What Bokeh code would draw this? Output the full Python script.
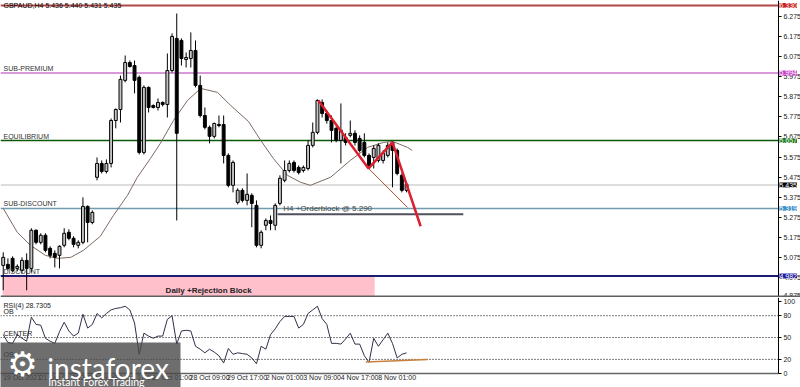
from bokeh.plotting import figure
from bokeh.layouts import column
from bokeh.models import (Range1d, FixedTicker, PrintfTickFormatter, Label,
                          BoxAnnotation, Span, ColumnDataSource)
from bokeh.embed import file_html
from bokeh.resources import INLINE

# ---------------- data (GBPAUD H4) ----------------
opens = [5.035, 5.040, 5.070, 5.020, 5.010, 5.060, 5.020, 5.210, 5.150, 5.185,
         5.120, 5.095, 5.085, 5.135, 5.200, 5.170, 5.135, 5.150, 5.329, 5.249,
         5.474, 5.543, 5.503, 5.543, 5.757, 5.812, 5.957, 6.046, 6.031, 5.972,
         5.598, 5.922, 5.832, 5.822, 5.847, 5.837, 6.006, 6.166, 6.156, 6.061,
         6.066, 6.106, 5.932, 5.782, 5.723, 5.678, 5.737, 5.737, 5.583, 5.434,
         5.349, 5.409, 5.359, 5.384, 5.334, 5.135, 5.235, 5.259, 5.235, 5.344,
         5.459, 5.508, 5.548, 5.523, 5.508, 5.518, 5.633, 5.698, 5.847, 5.792,
         5.757, 5.718, 5.658, 5.673, 5.683, 5.693, 5.668, 5.648, 5.583, 5.573,
         5.558, 5.558, 5.583, 5.648, 5.608, 5.484, 5.409]
highs = [5.100, 5.070, 5.080, 5.040, 5.075, 5.095, 5.220, 5.215, 5.195, 5.195,
         5.130, 5.110, 5.135, 5.220, 5.215, 5.180, 5.160, 5.374, 5.334, 5.309,
         5.573, 5.558, 5.563, 5.767, 5.817, 5.981, 6.081, 6.056, 6.056, 5.981,
         5.932, 5.927, 5.837, 5.867, 5.852, 6.091, 6.191, 6.290, 6.166, 6.096,
         6.196, 6.156, 5.981, 5.822, 5.732, 5.747, 5.782, 5.782, 5.593, 5.558,
         5.419, 5.419, 5.493, 5.394, 5.359, 5.210, 5.269, 5.284, 5.344, 5.484,
         5.558, 5.558, 5.558, 5.533, 5.533, 5.658, 5.747, 5.862, 5.862, 5.807,
         5.782, 5.728, 5.842, 5.693, 5.757, 5.708, 5.683, 5.693, 5.593, 5.633,
         5.643, 5.608, 5.648, 5.653, 5.618, 5.493, 5.449]
lows = [4.911, 5.010, 5.000, 5.005, 4.995, 4.911, 5.000, 5.140, 5.140, 5.100,
        5.070, 5.025, 5.020, 5.125, 5.160, 5.125, 5.120, 5.140, 5.150, 5.240,
        5.459, 5.493, 5.493, 5.523, 5.718, 5.747, 5.947, 6.021, 5.892, 5.588,
        5.588, 5.797, 5.817, 5.807, 5.827, 5.772, 5.996, 5.259, 6.031, 6.021,
        6.021, 5.922, 5.772, 5.713, 5.643, 5.668, 5.723, 5.543, 5.424, 5.399,
        5.339, 5.349, 5.334, 5.225, 5.125, 5.120, 5.210, 5.210, 5.210, 5.334,
        5.449, 5.498, 5.498, 5.488, 5.498, 5.508, 5.623, 5.688, 5.772, 5.742,
        5.648, 5.648, 5.543, 5.633, 5.673, 5.633, 5.598, 5.573, 5.523, 5.518,
        5.548, 5.543, 5.573, 5.424, 5.484, 5.399, 5.399]
closes = [5.075, 5.020, 5.010, 5.030, 5.060, 5.020, 5.210, 5.150, 5.185, 5.110,
          5.085, 5.075, 5.130, 5.195, 5.170, 5.140, 5.150, 5.329, 5.249, 5.299,
          5.543, 5.503, 5.543, 5.757, 5.812, 5.962, 6.046, 6.026, 5.957, 5.598,
          5.922, 5.822, 5.822, 5.847, 5.837, 6.006, 6.176, 5.693, 6.066, 6.071,
          6.106, 5.932, 5.782, 5.723, 5.678, 5.742, 5.732, 5.583, 5.434, 5.548,
          5.409, 5.359, 5.389, 5.344, 5.135, 5.200, 5.259, 5.244, 5.334, 5.469,
          5.508, 5.543, 5.508, 5.498, 5.523, 5.633, 5.698, 5.857, 5.792, 5.757,
          5.708, 5.658, 5.708, 5.648, 5.693, 5.648, 5.608, 5.583, 5.533, 5.618,
          5.633, 5.593, 5.633, 5.608, 5.493, 5.409, 5.439]

# moving average (bar position, price)
ma_bar = [0, 3.0, 5.8, 9.0, 11.6, 14.4, 17.1, 20.7, 23.5, 26.5, 28.6, 31.4,
          33.5, 36.3, 39.3, 42.1, 45.7, 48.5, 52.3, 54.9, 57.6, 60.6, 63.4,
          65.5, 69.8, 74.0, 77.7, 81.1, 83.0, 86.2, 87.2]
ma_val = [5.319, 5.200, 5.135, 5.085, 5.070, 5.075, 5.110, 5.180, 5.284, 5.384,
          5.474, 5.568, 5.643, 5.757, 5.857, 5.917, 5.897, 5.832, 5.752, 5.658,
          5.568, 5.484, 5.449, 5.434, 5.474, 5.558, 5.623, 5.648, 5.653, 5.623,
          5.608]

rsi = [54, 43, 42, 54, 49, 45, 78, 68, 67, 49, 45, 42, 58, 71, 59, 52, 56, 82,
       63, 68, 83, 77, 83, 88, 90, 91, 93, 88, 70, 27, 56, 52, 49, 52, 52, 75,
       80, 41, 59, 60, 59, 38, 34, 29, 34, 30, 25, 15, 35, 27, 29, 28, 27, 22,
       14, 38, 34, 54, 62, 72, 79, 79, 79, 63, 68, 83, 88, 93, 76, 68, 42, 42,
       41, 48, 56, 41, 41, 25, 16, 49, 38, 47, 56, 42, 22, 27, 29]

level_names = ["", "SUB-PREMIUM", "EQUILIBRIUM", "", "SUB-DISCOUNT", "DISCOUNT"]
level_values = [6.330, 5.994, 5.657, 5.435, 5.319, 4.982]
level_line_colors = ["#b04848", "#cc77cc", "#0a5a0a", "#dddddd", "#6f9cae", "#1c1c70"]
level_box_colors = ["#c81e1e", "#c83cc8", "#1f7a1f", "#000000", "#3f8fc8", "#1c1c9c"]
level_widths = [2, 1.5, 1.5, 2, 1.5, 2]

price_ticks = [6.275, 6.175, 6.075, 5.975, 5.875, 5.775, 5.675, 5.575,
               5.475, 5.375, 5.275, 5.175, 5.075, 4.975, 4.875]
rsi_ticks = [0, 20, 50, 80, 100]

time_label_bars = [0, 8, 16, 24, 32, 40, 48, 56, 64, 72, 80]
time_labels = ["19 Oct 2021", "21 Oct 01:00", "22 Oct 09:00", "25 Oct 17:00",
               "27 Oct 01:00", "28 Oct 09:00", "29 Oct 17:00", "2 Nov 01:00",
               "3 Nov 09:00", "4 Nov 17:00", "8 Nov 01:00"]

zig_bar = [67.2, 77.9, 83.0, 89.0]
zig_val = [5.857, 5.518, 5.648, 5.230]
chan_bar = [77.9, 86.2]
chan_val = [5.518, 5.324]

ob_bar = [58.5, 98.1]
ob_price = 5.290

rej_left, rej_right, rej_top, rej_bottom = -0.15, 79.2, 4.978, 4.860
rej_label_bar, rej_label_price = 43.8, 4.911

div_bar = [77.3, 90.5]
div_val = [16.3, 19.8]

rsi_levels = [80, 50, 20]
rsi_level_names = ["OB", "CENTER", "OS"]

# ---------------- layout constants ----------------
X0 = -0.58          # left edge of the chart
XAX = 165.3         # where the price scale sits
XEND = 170.0        # right edge of the canvas
Y0, Y1 = 4.875, 6.355
R0, R1 = -18.6, 105
XLINE = 1.0         # rsi value where the time axis is drawn
FONT = "Liberation Sans"
SMALL = "7px"
LABEL_SHIFT = 4

bars = list(range(len(opens)))
src = ColumnDataSource(dict(
    x=bars, h=highs, l=lows,
    top=[max(o, c) for o, c in zip(opens, closes)],
    bot=[min(o, c) for o, c in zip(opens, closes)],
    fill=["#c4c4c4" if c >= o else "#000000" for o, c in zip(opens, closes)],
))

p = figure(width=800, height=297, x_range=Range1d(X0, XEND),
           y_range=Range1d(Y0, Y1), output_backend="svg", toolbar_location=None,
           x_axis_location=None, y_axis_location="right",
           min_border_left=0, min_border_right=0, min_border_top=0,
           min_border_bottom=0, outline_line_color=None,
           background_fill_color="white", border_fill_color="white")
p.grid.visible = False

# rejection block
p.quad(left=[rej_left], right=[rej_right], top=[rej_top], bottom=[rej_bottom],
       fill_color="#ffc0cb", line_color=None, level="underlay")
p.add_layout(Label(x=rej_label_bar, y=rej_label_price,
                   text="Daily +Rejection Block", text_align="center",
                   text_baseline="middle", text_font=FONT, text_font_size="8px",
                   text_font_style="bold", text_color="#222222"))

# horizontal levels (end at the price scale)
p.segment(x0=[X0] * len(level_values), x1=[XAX] * len(level_values),
          y0=level_values, y1=level_values, line_color=level_line_colors,
          line_width=level_widths, level="underlay")

for name, v in zip(level_names, level_values):
    if name:
        p.add_layout(Label(x=X0, x_offset=3, y=v, y_offset=1, text=name,
                           text_font=FONT, text_font_size=SMALL,
                           text_color="#333333", text_baseline="bottom"))

# moving average
p.line(ma_bar, ma_val, line_color="#7d6a62", line_width=1)

# candles
p.segment(x0="x", y0="l", x1="x", y1="h", source=src, line_color="#000000",
          line_width=1)
p.vbar(x="x", width=0.62, top="top", bottom="bot", fill_color="fill",
       line_color="#000000", line_width=1, source=src)

# orderblock
p.line(ob_bar, [ob_price, ob_price], line_color="#50505e", line_width=2)
p.add_layout(Label(x=ob_bar[0] + 1.2, y=ob_price, y_offset=1,
                   text="H4 +Orderblock @ %.3f" % ob_price, text_font=FONT,
                   text_font_size="8px", text_color="#444444",
                   text_baseline="bottom"))

# drawings
p.line(chan_bar, chan_val, line_color="#a0522d", line_width=1)
p.line(zig_bar, zig_val, line_color="#dc1e2e", line_width=2.5)

# header
p.add_layout(Label(x=X0, x_offset=3, y=Y1, y_offset=-1,
                   text="GBPAUD,H4  5.436 5.440 5.431 5.435", text_font=FONT,
                   text_font_size=SMALL, text_color="#000000",
                   text_baseline="top"))

# panel separator
p.add_layout(Span(location=Y0, dimension="width", line_color="#606060",
                  line_width=4))

ax = p.yaxis[0]
ax.fixed_location = XAX
ax.ticker = FixedTicker(ticks=price_ticks)
ax.formatter = PrintfTickFormatter(format="%.3f")
ax.major_label_text_font = FONT
ax.major_label_text_font_size = SMALL
ax.major_label_text_color = "#222222"
ax.major_tick_out = 3
ax.major_tick_in = 0
ax.minor_tick_out = 0
ax.minor_tick_in = 0
ax.major_label_standoff = 2
ax.axis_line_color = "#000000"

# price boxes on the scale
for v, c in zip(level_values, level_box_colors):
    p.add_layout(Label(x=XAX, x_offset=1, y=v, text="%.3f" % v,
                       text_align="left", text_baseline="middle",
                       text_font=FONT, text_font_size=SMALL,
                       text_color="white", background_fill_color=c,
                       background_fill_alpha=1.0))

# ---------------- RSI panel ----------------
r = figure(width=800, height=90, x_range=p.x_range,
           y_range=Range1d(R0, R1), output_backend="svg",
           toolbar_location=None, y_axis_location="right",
           min_border_left=0, min_border_right=0, min_border_top=0,
           min_border_bottom=0, outline_line_color=None,
           background_fill_color="white", border_fill_color="white")
r.grid.visible = False

r.segment(x0=[X0] * len(rsi_levels), x1=[XAX] * len(rsi_levels),
          y0=rsi_levels, y1=rsi_levels, line_color="#000000", line_width=1,
          line_dash="1 2", level="underlay")
for lv, nm in zip(rsi_levels, rsi_level_names):
    r.add_layout(Label(x=X0, x_offset=3, y=lv, y_offset=1, text=nm,
                       text_font=FONT, text_font_size=SMALL,
                       text_color="#222222", text_baseline="bottom"))

r.line(bars, rsi, line_color="#30304a", line_width=1)
r.line(div_bar, div_val, line_color="#c8803c", line_width=1.5)

r.add_layout(Label(x=X0, x_offset=3, y=100, y_offset=-1,
                   text="RSI(4) 28.7305", text_font=FONT, text_font_size=SMALL,
                   text_color="#222222", text_baseline="top"))

ry = r.yaxis[0]
ry.fixed_location = XAX
ry.bounds = (XLINE, R1)
ry.ticker = FixedTicker(ticks=rsi_ticks)
ry.major_label_text_font = FONT
ry.major_label_text_font_size = SMALL
ry.major_label_text_color = "#222222"
ry.major_tick_out = 3
ry.major_tick_in = 0
ry.minor_tick_out = 0
ry.minor_tick_in = 0
ry.major_label_standoff = 2
ry.axis_line_color = "#000000"

rx = r.xaxis[0]
rx.fixed_location = XLINE
rx.bounds = (X0, XAX)
rx.ticker = FixedTicker(ticks=[b + LABEL_SHIFT for b in time_label_bars])
rx.major_label_overrides = {b + LABEL_SHIFT: t for b, t in zip(time_label_bars, time_labels)}
rx.major_label_text_font = FONT
rx.major_label_text_font_size = SMALL
rx.major_label_text_color = "#222222"
rx.major_tick_out = 0
rx.major_tick_in = 0
rx.minor_tick_out = 0
rx.minor_tick_in = 0
rx.major_label_standoff = 1
rx.axis_line_color = "#666666"
rx.axis_line_width = 1.5

# watermark
r.add_layout(BoxAnnotation(left=X0 - 1, right=37.8, bottom=R0 - 5, top=43.2,
                           fill_color="#4a4a4a", fill_alpha=0.8,
                           line_alpha=0))
r.add_layout(Label(x=9.4, y=8.0, text="instaforex", text_font="Lato",
                   text_font_size="28px", text_color="white",
                   text_baseline="alphabetic"))
r.add_layout(Label(x=9.6, y=-11.0, text="Instant Forex Trading", text_font="Lato",
                   text_font_size="10.5px", text_color="white",
                   text_baseline="alphabetic"))
r.add_layout(Label(x=4.1, y=13.0, text="\u2699", text_font="DejaVu Sans",
                   text_font_size="34px", text_color="white",
                   text_align="center", text_baseline="middle"))

layout = column(p, r, spacing=0)
open("out.html", "w").write(file_html(layout, INLINE))
